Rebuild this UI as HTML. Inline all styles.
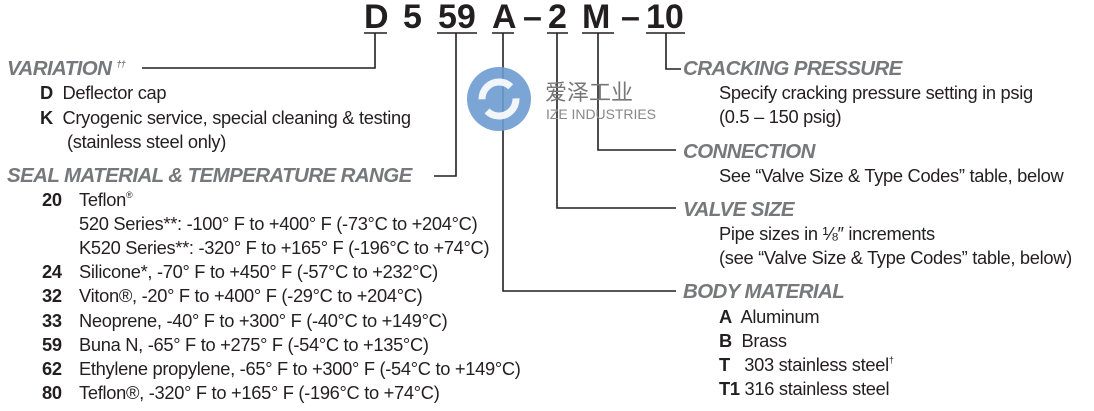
<!DOCTYPE html>
<html><head><meta charset="utf-8"><style>
body{margin:0;width:1094px;height:411px;background:#fff;position:relative;overflow:hidden;font-family:"Liberation Sans","Noto Sans CJK SC",sans-serif;color:#231f20}
.t{position:absolute;white-space:nowrap;font-size:18.3px;line-height:24px;letter-spacing:-0.3px}
.h{position:absolute;white-space:nowrap;font-size:20.5px;line-height:24px;font-weight:bold;font-style:italic;color:#77787b;letter-spacing:-0.6px}
.c{position:absolute;font-size:34px;font-weight:bold;line-height:36px;top:-1px}
b{font-weight:bold}
sup{font-size:9px;line-height:0;vertical-align:8px}
</style></head><body>
<svg style="position:absolute;left:0;top:0" width="1094" height="411">
<g stroke="#231f20" stroke-width="1.6" fill="none">
<line x1="364" y1="33" x2="387" y2="33"/><line x1="437" y1="33" x2="477" y2="33"/>
<line x1="492" y1="33" x2="514" y2="33"/><line x1="547" y1="33" x2="568" y2="33"/>
<line x1="582" y1="33" x2="614" y2="33"/><line x1="646" y1="33" x2="685" y2="33"/>
<polyline points="375,33 375,68 142,68"/>
<polyline points="456,33 456,176 434,176"/>
<polyline points="503,33 503,291 676,291"/>
<polyline points="557,33 557,208 676,208"/>
<polyline points="598,33 598,150 676,150"/>
<polyline points="666,33 666,69 681,69"/>
</g>
<circle cx="499" cy="99" r="32" fill="#6b9bcf" opacity="0.9"/>
<circle cx="499" cy="99" r="17" fill="none" stroke="#fff" stroke-width="7" stroke-dasharray="40 13" opacity="0.9"/>
<text x="545" y="100" font-size="22" fill="#777" font-family="Noto Sans CJK SC,sans-serif">爱泽工业</text>
<text x="546" y="119" font-size="14" fill="#888" font-family="Liberation Sans,sans-serif" textLength="110">IZE INDUSTRIES</text>
</svg>
<div class="c" style="left:364px">D</div>
<div class="c" style="left:403px">5</div>
<div class="c" style="left:438px">59</div>
<div class="c" style="left:492px">A</div>
<div class="c" style="left:523px">–</div>
<div class="c" style="left:548px">2</div>
<div class="c" style="left:582px">M</div>
<div class="c" style="left:621px">–</div>
<div class="c" style="left:646px">10</div>

<div class="h" style="left:7px;top:57px">VARIATION <sup>††</sup></div>
<div class="t" style="left:40px;top:81px"><b>D</b>&nbsp; Deflector cap</div>
<div class="t" style="left:40px;top:106px"><b>K</b>&nbsp; Cryogenic service, special cleaning &amp; testing</div>
<div class="t" style="left:67px;top:130px">(stainless steel only)</div>
<div class="h" style="left:7px;top:164px">SEAL MATERIAL &amp; TEMPERATURE RANGE</div>
<div class="t" style="left:42px;top:188px"><b>20</b></div><div class="t" style="left:79px;top:188px">Teflon<sup>®</sup></div>
<div class="t" style="left:79px;top:212px">520 Series**: -100° F to +400° F (-73°C to +204°C)</div>
<div class="t" style="left:79px;top:236px">K520 Series**: -320° F to +165° F (-196°C to +74°C)</div>
<div class="t" style="left:42px;top:260px"><b>24</b></div><div class="t" style="left:79px;top:260px">Silicone*, -70° F to +450° F (-57°C to +232°C)</div>
<div class="t" style="left:42px;top:284px"><b>32</b></div><div class="t" style="left:79px;top:284px">Viton®, -20° F to +400° F (-29°C to +204°C)</div>
<div class="t" style="left:42px;top:309px"><b>33</b></div><div class="t" style="left:79px;top:309px">Neoprene, -40° F to +300° F (-40°C to +149°C)</div>
<div class="t" style="left:42px;top:333px"><b>59</b></div><div class="t" style="left:79px;top:333px">Buna N, -65° F to +275° F (-54°C to +135°C)</div>
<div class="t" style="left:42px;top:357px"><b>62</b></div><div class="t" style="left:79px;top:357px">Ethylene propylene, -65° F to +300° F (-54°C to +149°C)</div>
<div class="t" style="left:42px;top:381px"><b>80</b></div><div class="t" style="left:79px;top:381px">Teflon®, -320° F to +165° F (-196°C to +74°C)</div>

<div class="h" style="left:683px;top:57px">CRACKING PRESSURE</div>
<div class="t" style="left:719px;top:81px">Specify cracking pressure setting in psig</div>
<div class="t" style="left:719px;top:105px">(0.5 – 150 psig)</div>
<div class="h" style="left:683px;top:140px">CONNECTION</div>
<div class="t" style="left:719px;top:164px">See “Valve Size &amp; Type Codes” table, below</div>
<div class="h" style="left:683px;top:198px">VALVE SIZE</div>
<div class="t" style="left:719px;top:222px">Pipe sizes in ⅛″ increments</div>
<div class="t" style="left:719px;top:246px">(see “Valve Size &amp; Type Codes” table, below)</div>
<div class="h" style="left:683px;top:280px">BODY MATERIAL</div>
<div class="t" style="left:719px;top:305px"><b>A</b>&nbsp; Aluminum</div>
<div class="t" style="left:719px;top:329px"><b>B</b>&nbsp; Brass</div>
<div class="t" style="left:719px;top:353px"><b>T</b>&nbsp;&nbsp; 303 stainless steel<sup>†</sup></div>
<div class="t" style="left:719px;top:377px"><b>T1</b> 316 stainless steel</div>
</body></html>
